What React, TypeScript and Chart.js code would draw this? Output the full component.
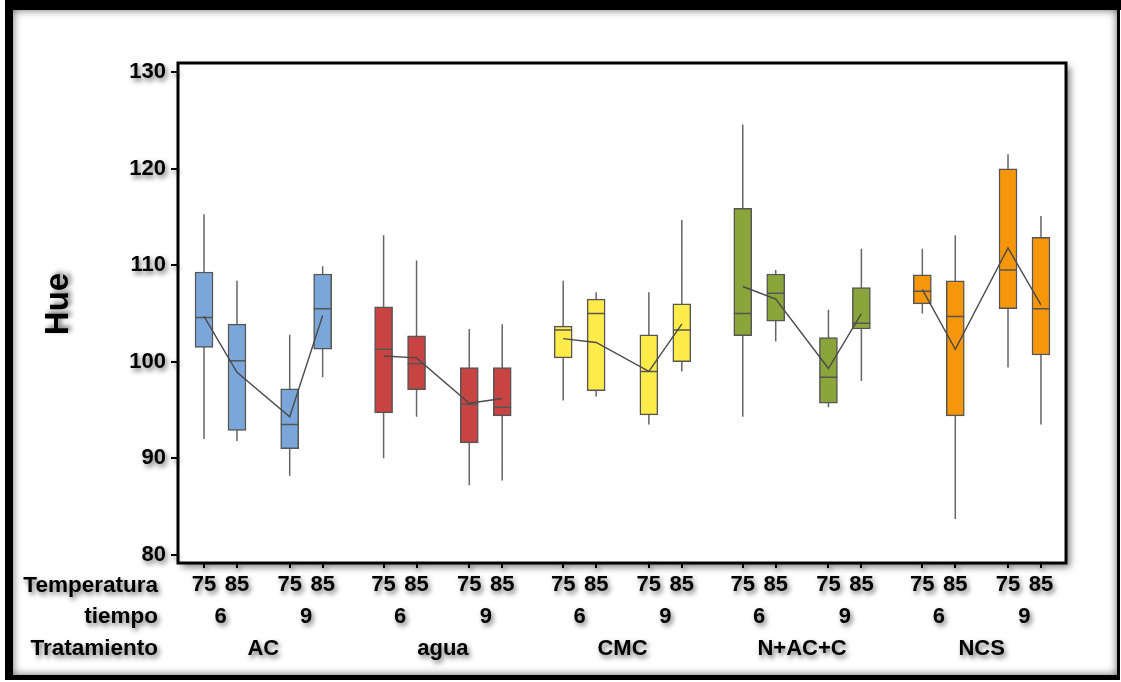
import React, { useEffect, useRef } from 'react';
import { Chart, registerables } from 'chart.js';

Chart.register(...registerables);

// Factor levels
const TREATMENTS = ['AC', 'agua', 'CMC', 'N+AC+C', 'NCS'];
const TIEMPOS = ['6', '9'];
const TEMPERATURAS = ['75', '85'];
const ROW_LABELS = ['Temperatura', 'tiempo', 'Tratamiento'];
const Y_TITLE = 'Hue';
const Y_TICKS = [80, 90, 100, 110, 120, 130];
const TREATMENT_COLORS = ['#7BA6DA', '#C84443', '#FFEB4A', '#8AA63A', '#F5960B'];

// Box statistics, order: treatment > tiempo > temperatura (20 boxes)
const WHISKER_LOW = [
  92.0, 91.8, 88.2, 98.4,
  90.0, 94.3, 87.2, 87.7,
  96.0, 96.4, 93.5, 99.0,
  94.3, 102.1, 95.3, 98.0,
  105.0, 83.7, 99.4, 93.5,
];
const Q1 = [
  101.5, 92.9, 91.0, 101.3,
  94.7, 97.1, 91.6, 94.4,
  100.4, 97.0, 94.5, 100.0,
  102.7, 104.2, 95.7, 103.4,
  106.0, 94.4, 105.5, 100.7,
];
const MEDIAN = [
  104.6, 100.1, 93.5, 105.5,
  101.3, 99.8, 95.6, 95.3,
  103.3, 105.0, 99.0, 103.3,
  105.0, 107.1, 98.4, 104.0,
  107.3, 104.7, 109.5, 105.5,
];
const Q3 = [
  109.3, 103.9, 97.2, 109.1,
  105.7, 102.7, 99.4, 99.4,
  103.7, 106.5, 102.8, 106.0,
  115.9, 109.1, 102.5, 107.7,
  109.0, 108.4, 120.0, 112.9,
];
const WHISKER_HIGH = [
  115.3, 108.4, 102.8, 109.9,
  113.1, 110.5, 103.4, 103.9,
  108.4, 107.2, 107.2, 114.7,
  124.6, 109.5, 105.4, 111.7,
  111.7, 113.1, 121.5, 115.1,
];
const MEAN = [
  104.7, 98.9, 94.3, 104.8,
  100.6, 100.4, 95.7, 96.2,
  102.4, 102.0, 99.0, 103.9,
  107.8, 106.5, 99.3, 105.0,
  107.5, 101.3, 111.8, 105.9,
];

// layout of nested categories on a linear axis (units = one temperature step)
const TEMP_STEP = 1;
const TIEMPO_STEP = 2.6;
const TREAT_STEP = 5.45;
const BOX_HALF = 0.27;

const N = MEDIAN.length;
const POS = Array.from({ length: N }, (_, i) => {
  const t = Math.floor(i / 4);
  const tj = Math.floor(i / 2) % 2;
  const tk = i % 2;
  return t * TREAT_STEP + tj * TIEMPO_STEP + tk * TEMP_STEP;
});

const FONT = '"Liberation Sans", Arial, sans-serif';

export default function App() {
  const ref = useRef<HTMLCanvasElement | null>(null);

  useEffect(() => {
    document.body.style.margin = '0';
    document.body.style.overflow = 'hidden';
    const canvas = ref.current!;

    const setShadow = (ctx: CanvasRenderingContext2D) => {
      ctx.shadowColor = 'rgba(0,0,0,0.55)';
      ctx.shadowBlur = 5;
      ctx.shadowOffsetX = 2;
      ctx.shadowOffsetY = 3;
    };

    const framePlugin = {
      id: 'frame',
      beforeDraw(chart: any) {
        const ctx: CanvasRenderingContext2D = chart.ctx;
        const W = chart.width;
        const H = chart.height;
        ctx.save();
        ctx.fillStyle = '#fff';
        ctx.fillRect(0, 0, W, H);
        ctx.fillStyle = '#000';
        ctx.fillRect(5, 0, W - 4, 10);
        ctx.fillRect(5, 0, 8, 680);
        ctx.fillRect(1117, 0, 3, 680);
        ctx.fillRect(5, 675, 1115, 5);
        ctx.beginPath();
        ctx.rect(13, 10, 1104, 665);
        ctx.clip();
        ctx.shadowColor = 'rgba(0,0,0,0.6)';
        ctx.shadowBlur = 9;
        ctx.strokeStyle = '#000';
        ctx.lineWidth = 10;
        ctx.strokeRect(8, 5, 1114, 675);
        ctx.restore();

        const a = chart.chartArea;
        ctx.save();
        ctx.shadowColor = 'rgba(0,0,0,0.5)';
        ctx.shadowBlur = 7;
        ctx.shadowOffsetX = 4;
        ctx.shadowOffsetY = 4;
        ctx.fillStyle = '#fff';
        ctx.fillRect(a.left, a.top, a.right - a.left, a.bottom - a.top);
        ctx.restore();
        ctx.save();
        ctx.strokeStyle = '#000';
        ctx.lineWidth = 3;
        ctx.strokeRect(a.left, a.top, a.right - a.left, a.bottom - a.top);
        ctx.restore();
        setShadow(ctx);
      },
      beforeDatasetsDraw(chart: any) {
        const ctx: CanvasRenderingContext2D = chart.ctx;
        ctx.shadowColor = 'rgba(0,0,0,0)';
        ctx.shadowBlur = 0;
        ctx.shadowOffsetX = 0;
        ctx.shadowOffsetY = 0;
      },
      afterDraw(chart: any) {
        const ctx: CanvasRenderingContext2D = chart.ctx;
        const xs = chart.scales.x;
        ctx.save();
        setShadow(ctx);
        ctx.fillStyle = '#000';
        ctx.font = `bold 22.5px ${FONT}`;
        ctx.textBaseline = 'middle';
        const rowY = [586, 617, 649];
        ctx.textAlign = 'right';
        ROW_LABELS.forEach((l, i) => ctx.fillText(l, 158, rowY[i]));
        ctx.font = `bold 22px ${FONT}`;
        ctx.textAlign = 'center';
        for (let t = 0; t < TREATMENTS.length; t++) {
          for (let j = 0; j < TIEMPOS.length; j++) {
            const i0 = t * 4 + j * 2;
            const px = (xs.getPixelForValue(POS[i0]) + xs.getPixelForValue(POS[i0 + 1])) / 2;
            ctx.fillText(TIEMPOS[j], px, rowY[1]);
          }
          const p0 = xs.getPixelForValue(POS[t * 4]);
          const p1 = xs.getPixelForValue(POS[t * 4 + 3]);
          ctx.fillText(TREATMENTS[t], (p0 + p1) / 2, rowY[2]);
        }
        ctx.translate(59, 304);
        ctx.rotate(-Math.PI / 2);
        ctx.font = `bold 33px ${FONT}`;
        ctx.shadowOffsetX = 3;
        ctx.shadowOffsetY = -2;
        ctx.fillText(Y_TITLE, 0, 0);
        ctx.restore();
      },
    };

    const boxColors = POS.map((_, i) => TREATMENT_COLORS[Math.floor(i / 4)]);

    const whiskerData: any[] = [];
    const medianData: any[] = [];
    POS.forEach((x, i) => {
      whiskerData.push({ x, y: WHISKER_LOW[i] }, { x, y: WHISKER_HIGH[i] }, { x, y: null });
      medianData.push(
        { x: x - BOX_HALF, y: MEDIAN[i] },
        { x: x + BOX_HALF, y: MEDIAN[i] },
        { x: x + BOX_HALF, y: null }
      );
    });

    const meanSets = TREATMENTS.map((name, t) => ({
      type: 'line' as const,
      label: `mean ${name}`,
      data: [0, 1, 2, 3].map((k) => ({ x: POS[t * 4 + k], y: MEAN[t * 4 + k] })),
      borderColor: '#4a4a4a',
      borderWidth: 1.4,
      pointRadius: 0,
      tension: 0,
      order: 0,
    }));

    const chart = new Chart(canvas, {
      type: 'bar',
      data: {
        datasets: [
          {
            type: 'line',
            label: 'whiskers',
            data: whiskerData,
            borderColor: '#666',
            borderWidth: 1.5,
            pointRadius: 0,
            spanGaps: false,
            order: 3,
          } as any,
          {
            type: 'bar',
            label: 'boxes',
            data: POS.map((x, i) => ({ x, y: [Q1[i], Q3[i]] })),
            backgroundColor: boxColors,
            borderColor: '#555',
            borderWidth: 1.5,
            borderSkipped: false,
            barThickness: 18,
            grouped: false,
            order: 2,
          } as any,
          {
            type: 'line',
            label: 'medians',
            data: medianData,
            borderColor: '#555',
            borderWidth: 1.5,
            pointRadius: 0,
            spanGaps: false,
            order: 1,
          } as any,
          ...meanSets,
        ],
      },
      options: {
        responsive: false,
        animation: false,
        events: [],
        layout: { padding: { left: 0, top: 63, right: 55, bottom: 0 } },
        plugins: { legend: { display: false }, tooltip: { enabled: false }, title: { display: false } },
        scales: {
          x: {
            type: 'linear',
            offset: false,
            min: -0.79,
            max: 26.16,
            grid: {
              display: true,
              drawOnChartArea: false,
              drawTicks: true,
              tickLength: 5,
              color: '#000',
              lineWidth: 2,
              offset: false,
            },
            border: { display: false },
            afterBuildTicks: (scale: any) => {
              scale.ticks = POS.map((v) => ({ value: v }));
            },
            afterFit: (scale: any) => {
              scale.height = 682 - 563;
            },
            ticks: {
              autoSkip: false,
              maxRotation: 0,
              minRotation: 0,
              padding: 4,
              color: '#000',
              font: { family: FONT, size: 22, weight: 'bold' },
              callback: (_v: any, i: number) => TEMPERATURAS[i % 2],
            },
          } as any,
          y: {
            type: 'linear',
            min: 79.15,
            max: 130.96,
            grid: {
              display: true,
              drawOnChartArea: false,
              drawTicks: true,
              tickLength: 7,
              color: '#000',
              lineWidth: 2,
            },
            border: { display: false },
            afterBuildTicks: (scale: any) => {
              scale.ticks = Y_TICKS.map((v) => ({ value: v }));
            },
            afterFit: (scale: any) => {
              scale.width = 178;
            },
            ticks: {
              padding: 5,
              color: '#000',
              font: { family: FONT, size: 22, weight: 'bold' },
            },
          } as any,
        },
      },
      plugins: [framePlugin],
    });

    return () => chart.destroy();
  }, []);

  return (
    <div style={{ width: 1121, height: 682, position: 'relative' }}>
      <canvas ref={ref} width={1121} height={682} style={{ display: 'block' }} />
    </div>
  );
}
